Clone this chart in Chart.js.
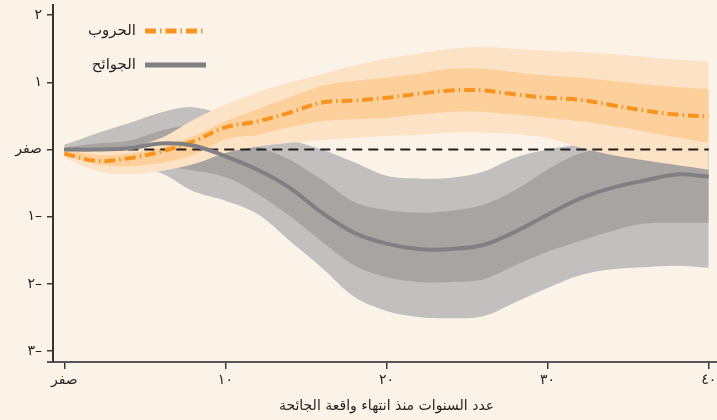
<!DOCTYPE html>
<html lang="ar">
<head>
<meta charset="utf-8">
<script src="https://cdn.jsdelivr.net/npm/chart.js@4.4.0/dist/chart.umd.min.js"></script>
<style>
  html, body { margin: 0; padding: 0; background: #fcf3e8; overflow: hidden; }
</style>
</head>
<body>
<canvas id="chart" width="730" height="420"></canvas>
<script>
// years since end of event
const years = [0, 2, 4, 6, 8, 10, 12, 14, 16, 18, 20, 22, 24, 26, 28, 30, 32, 34, 36, 38, 40];

// wars (orange)
const warsMid     = [-0.06, -0.17, -0.13, -0.03, 0.12, 0.33, 0.42, 0.55, 0.70, 0.73, 0.77, 0.83, 0.88, 0.88, 0.82, 0.77, 0.74, 0.66, 0.58, 0.52, 0.49];
const warsInnerHi = [0.00, -0.08, -0.06, 0.03, 0.20, 0.42, 0.60, 0.78, 0.95, 1.02, 1.07, 1.13, 1.20, 1.20, 1.15, 1.10, 1.07, 1.02, 0.97, 0.93, 0.90];
const warsInnerLo = [-0.08, -0.22, -0.25, -0.20, -0.08, 0.15, 0.22, 0.33, 0.42, 0.45, 0.47, 0.52, 0.56, 0.56, 0.52, 0.47, 0.42, 0.35, 0.27, 0.18, 0.10];
const warsOuterHi = [0.03, 0.00, 0.03, 0.17, 0.44, 0.67, 0.85, 1.00, 1.12, 1.25, 1.35, 1.43, 1.50, 1.53, 1.50, 1.47, 1.45, 1.42, 1.38, 1.34, 1.31];
const warsOuterLo = [-0.12, -0.32, -0.37, -0.32, -0.22, -0.05, 0.04, 0.10, 0.14, 0.17, 0.20, 0.22, 0.25, 0.25, 0.23, 0.17, 0.03, -0.08, -0.16, -0.23, -0.30];

// pandemics (grey)
const pandMid     = [0.00, 0.00, 0.02, 0.09, 0.06, -0.10, -0.30, -0.57, -0.94, -1.24, -1.40, -1.48, -1.48, -1.42, -1.22, -0.97, -0.73, -0.57, -0.46, -0.37, -0.40];
const pandInnerHi = [0.03, 0.09, 0.13, 0.28, 0.36, 0.25, 0.05, -0.15, -0.45, -0.78, -0.90, -0.94, -0.91, -0.82, -0.60, -0.30, -0.06, 0.02, 0.03, 0.03, 0.03];
const pandInnerLo = [-0.03, -0.10, -0.18, -0.25, -0.31, -0.41, -0.66, -0.99, -1.37, -1.72, -1.90, -1.97, -1.97, -1.93, -1.72, -1.52, -1.36, -1.21, -1.10, -1.09, -1.09];
const pandOuterHi = [0.07, 0.24, 0.39, 0.55, 0.63, 0.50, 0.33, 0.15, 0.00, -0.19, -0.39, -0.43, -0.42, -0.33, -0.12, 0.00, 0.07, 0.08, 0.08, 0.08, 0.08];
const pandOuterLo = [-0.04, -0.15, -0.25, -0.35, -0.62, -0.76, -0.96, -1.36, -1.76, -2.19, -2.40, -2.49, -2.51, -2.48, -2.27, -2.06, -1.87, -1.78, -1.75, -1.73, -1.76];

const zeroLine = years.map(() => 0);

const xTicks = [0, 10, 20, 30, 40];
const xTickLabels = ['صفر', '١٠', '٢٠', '٣٠', '٤٠'];
const yTicks = [-3, -2, -1, 0, 1, 2];
const yTickLabels = ['٣–', '٢–', '١–', 'صفر', '١', '٢'];
const legendLabels = ['الحروب', 'الجوائح'];
const xTitle = 'عدد السنوات منذ انتهاء واقعة الجائحة';

const ORANGE = '#f7931e';
const GREY = '#7f7f84';
const FONT = 'DejaVu Sans';

const pts = arr => years.map((x, i) => ({ x: x, y: arr[i] }));

const band = (data, color, target, order) => ({
  data: pts(data),
  borderWidth: 0,
  pointRadius: 0,
  tension: 0.35,
  backgroundColor: color,
  fill: target === null ? false : target,
  order: order,
});

const legendPlugin = {
  id: 'rtlLegend',
  afterDraw(chart) {
    const ctx = chart.ctx;
    ctx.save();
    ctx.font = '15px "' + FONT + '"';
    ctx.fillStyle = '#231f20';
    ctx.textAlign = 'right';
    ctx.textBaseline = 'middle';
    const rows = [31, 65];
    ctx.fillText(legendLabels[0], 136, rows[0]);
    ctx.fillText(legendLabels[1], 136, rows[1]);
    ctx.lineWidth = 5;
    ctx.strokeStyle = ORANGE;
    ctx.setLineDash([11, 4, 1.5, 4]);
    ctx.beginPath();
    ctx.moveTo(145, rows[0]);
    ctx.lineTo(206, rows[0]);
    ctx.stroke();
    ctx.setLineDash([]);
    ctx.strokeStyle = GREY;
    ctx.beginPath();
    ctx.moveTo(145, rows[1]);
    ctx.lineTo(206, rows[1]);
    ctx.stroke();
    // x axis line runs a little past the y axis, as in the original
    const a = chart.chartArea;
    ctx.strokeStyle = '#555';
    ctx.lineWidth = 2;
    ctx.beginPath();
    ctx.moveTo(a.left - 6, a.bottom);
    ctx.lineTo(a.left, a.bottom);
    ctx.stroke();
    ctx.restore();
  }
};

new Chart(document.getElementById('chart').getContext('2d'), {
  type: 'line',
  data: {
    datasets: [
      // 0,1 grey outer band
      band(pandOuterLo, 'rgba(0,0,0,0)', null, 9),
      band(pandOuterHi, '#c1c0bf', 0, 9),
      // 2,3 grey inner band
      band(pandInnerLo, 'rgba(0,0,0,0)', null, 8),
      band(pandInnerHi, '#a8a4a1', 2, 8),
      // 4,5 orange outer band
      band(warsOuterLo, 'rgba(0,0,0,0)', null, 7),
      band(warsOuterHi, '#fde3c6', 4, 7),
      // 6,7 orange inner band
      band(warsInnerLo, 'rgba(0,0,0,0)', null, 6),
      band(warsInnerHi, '#fdd09b', 6, 6),
      {
        data: pts(zeroLine),
        borderColor: '#231f20',
        borderWidth: 2,
        borderDash: [10, 6],
        pointRadius: 0,
        fill: false,
        order: 5,
      },
      {
        label: legendLabels[0],
        data: pts(warsMid),
        borderColor: ORANGE,
        borderWidth: 4,
        borderDash: [11, 4, 1.5, 4],
        borderCapStyle: 'butt',
        pointRadius: 0,
        tension: 0.35,
        fill: false,
        order: 3,
      },
      {
        label: legendLabels[1],
        data: pts(pandMid),
        borderColor: GREY,
        borderWidth: 4,
        pointRadius: 0,
        tension: 0.35,
        fill: false,
        order: 2,
      },
    ],
  },
  options: {
    responsive: false,
    animation: false,
    layout: { padding: { top: 5, right: 10, left: 0, bottom: 0 } },
    plugins: {
      legend: { display: false },
      tooltip: { enabled: false },
      filler: { propagate: false },
    },
    scales: {
      x: {
        type: 'linear',
        min: -0.7,
        max: 40.7,
        afterFit: s => { s.height = 58; s.paddingLeft = 0; s.paddingRight = 0; },
        afterBuildTicks: s => { s.ticks = xTicks.map(v => ({ value: v })); },
        ticks: {
          autoSkip: false,
          maxRotation: 0,
          padding: 3,
          color: '#231f20',
          font: { family: FONT, size: 14 },
          callback: v => xTickLabels[xTicks.indexOf(v)],
        },
        grid: { drawOnChartArea: false, drawTicks: true, tickLength: 7, color: '#3a3a3a', lineWidth: 1.5 },
        border: { display: true, color: '#555', width: 2 },
        title: {
          display: true,
          text: xTitle,
          color: '#231f20',
          font: { family: FONT, size: 14 },
          padding: { top: 0, bottom: 5 },
        },
      },
      y: {
        min: -3.16,
        max: 2.15,
        afterFit: s => { s.width = 53; s.paddingTop = 0; s.paddingBottom = 0; },
        afterBuildTicks: s => { s.ticks = yTicks.map(v => ({ value: v })); },
        ticks: {
          padding: 5,
          color: '#231f20',
          font: { family: FONT, size: 14 },
          callback: v => yTickLabels[yTicks.indexOf(v)],
        },
        grid: { drawOnChartArea: false, drawTicks: true, tickLength: 6, color: '#3a3a3a', lineWidth: 1.5 },
        border: { display: true, color: '#333', width: 2 },
      },
    },
  },
  plugins: [legendPlugin],
});
</script>
</body>
</html>
